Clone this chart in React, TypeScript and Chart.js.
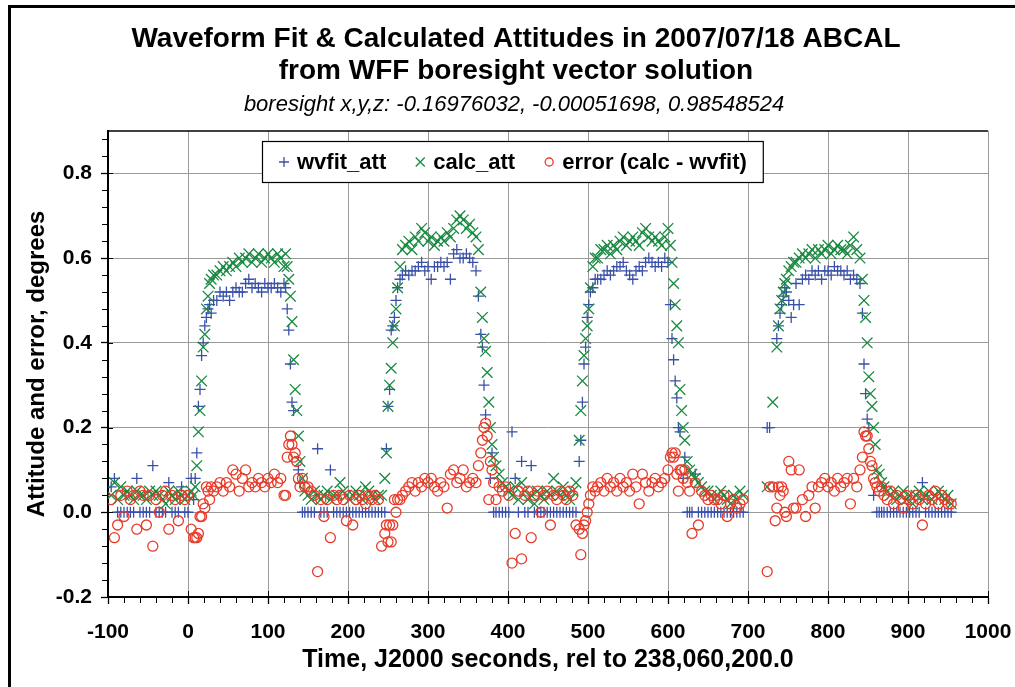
import React, { useEffect, useRef } from "react";
import { Chart, registerables } from "chart.js";

Chart.register(...registerables);

const FONT = "'Liberation Sans', Arial, Helvetica, sans-serif";

const TITLE_1 = "Waveform Fit & Calculated Attitudes in 2007/07/18 ABCAL";
const TITLE_2 = "from WFF boresight vector solution";
const SUBTITLE = "boresight x,y,z: -0.16976032, -0.00051698, 0.98548524";
const X_TITLE = "Time, J2000 seconds, rel to 238,060,200.0";
const Y_TITLE = "Attitude and error, degrees";
const SERIES_NAMES = ["wvfit_att", "calc_att", "error (calc - wvfit)"];

const X_MIN = -100;
const X_MAX = 1000;
const X_STEP = 100;
const X_MINOR = 20;
const Y_MIN = -0.2;
const Y_MAX = 0.9;
const Y_STEP = 0.2;
const Y_MINOR = 0.04;

// sample times (s)
const TIME = [
  -96, -92, -88, -84, -80, -76, -72, -68, -64, -60, -56, -52, -48, -44, -40, -36, -32, -28, -24, -20, -16, -12, -8, -4, 0, 4,
  7, 9, 11, 13, 15, 17, 19, 21, 23, 25, 27, 29, 32,
  36, 40, 44, 48, 52, 56, 60, 64, 68, 72, 76, 80, 84, 88, 92, 96, 100, 104, 108, 112, 116, 120,
  122, 124, 126, 128, 130, 132, 134, 136, 138, 140, 143, 146,
  150, 154, 158, 162, 166, 170, 174, 178, 182, 186, 190, 194, 198, 202, 206, 210, 214, 218, 222, 226, 230, 234, 238, 242, 246,
  248, 250, 252, 254, 256, 258, 260, 262, 265, 268,
  272, 276, 280, 284, 288, 292, 296, 300, 304, 308, 312, 316, 320, 324, 328, 332, 336, 340, 344, 348, 352, 356, 360,
  363, 366, 368, 370, 372, 374, 376, 378, 380, 382, 385,
  389, 393, 397, 401, 405, 409, 413, 417, 421, 425, 429, 433, 437, 441, 445, 449, 453, 457, 461, 465, 469, 473, 477, 481, 485, 489,
  491, 493, 495, 497, 499, 501, 503, 506, 509,
  512, 516, 520, 524, 528, 532, 536, 540, 544, 548, 552, 556, 560, 564, 568, 572, 576, 580, 584, 588, 592, 596, 600,
  603, 605, 607, 609, 611, 613, 615, 617, 619, 621, 624, 627, 630,
  634, 638, 642, 646, 650, 654, 658, 662, 666, 670, 674, 678, 682, 686, 690, 694,
  724, 727, 731, 734, 736, 738, 740, 742, 744, 746, 748, 751, 754, 757,
  760, 764, 768, 772, 776, 780, 784, 788, 792, 796, 800, 804, 808, 812, 816, 820, 824, 828, 832, 836, 840,
  843, 845, 847, 849, 851, 853, 855, 857, 859, 861, 864, 867,
  870, 874, 878, 882, 886, 890, 894, 898, 902, 906, 910, 914, 918, 922, 926, 930, 934, 938, 942, 946, 950, 954,
];

// wvfit_att (degrees)
const WVFIT = [
  0.06, 0.08, 0, 0, 0, 0, 0, 0, 0.08, 0, 0, 0, 0, 0.11, 0, 0, 0, 0, 0.07, 0, 0, 0, 0.06, 0, 0, 0.08,
  0.03, 0.08, 0.14, 0.25, 0.29, 0.37, 0.40, 0.44, 0.46, 0.48, 0.49, 0.47, 0.50,
  0.50, 0.52, 0.51, 0.52, 0.50, 0.52, 0.53, 0.52, 0.52, 0.54, 0.55, 0.53, 0.54, 0.53, 0.52, 0.54, 0.53, 0.53, 0.54, 0.53, 0.52, 0.54,
  0.53, 0.48, 0.43, 0.35, 0.26, 0.24, null, null, 0.10, 0.07, 0, 0,
  0, 0, 0, 0.15, 0, 0, 0, 0.10, 0, 0, 0, 0, 0, 0, 0, 0, 0, 0, 0, 0, 0, 0, 0, 0, 0,
  0.15, 0.25, 0.29, 0.43, 0.44, 0.46, 0.50, 0.53, 0.55, 0.56,
  0.57, 0.56, 0.57, 0.57, 0.58, 0.59, 0.57, 0.58, 0.55, 0.58, 0.58, 0.59, 0.58, 0.59, 0.55, 0.61, 0.62, 0.60, 0.60, 0.61, 0.60, 0.59, 0.57,
  0.51, 0.42, 0.39, 0.30, 0.23, null, null, 0.08, 0.14, 0, 0,
  0, 0, 0, 0, 0.19, 0.08, 0, 0.12, 0, 0, 0.11, 0, 0, 0, 0, 0, 0, 0, 0, 0, 0, 0, 0, 0, 0, 0.12,
  0.17, 0.26, 0.35, 0.39, 0.46, 0.49, 0.52, 0.53, 0.55,
  0.55, 0.55, 0.56, 0.57, 0.56, 0.57, 0.58, 0.58, 0.59, 0.57, 0.56, 0.55, 0.57, 0.58, 0.57, 0.59, 0.60, 0.59, 0.58, 0.59, 0.58, 0.60, 0.59,
  0.49, 0.41, 0.36, 0.31, 0.27, 0.20, 0.19, null, 0.08, 0.13, 0, 0, 0,
  0.09, 0, 0, 0, 0, 0, 0, 0, 0, 0, 0, 0, 0, 0, 0, 0,
  0.20, 0.20, null, null, 0.41, 0.44, 0.47, 0.49, 0.51, 0.53, 0.52, 0.50, 0.46, 0.49,
  0.54, 0.49, 0.55, 0.56, 0.55, 0.57, 0.56, 0.57, 0.55, 0.57, 0.57, 0.56, 0.58, 0.57, 0.57, 0.56, 0.57, 0.55, 0.56, 0.55, 0.54,
  0.47, 0.35, 0.28, 0.22, 0.20, null, null, 0.04, null, 0, 0, 0,
  0, 0, 0, 0, 0, 0, 0, 0, 0, 0, 0, 0, 0.07, 0, 0, 0, 0, 0, 0, 0, 0, 0,
];

// calc_att (degrees)
const CALC = [
  0.04, 0.07, 0.03, 0.06, 0.04, 0.05, 0.04, 0.03, 0.05, 0.04, 0.04, 0.03, 0.05, 0.04, 0.05, 0.04, 0.03, 0.02, 0.05, 0.04, 0.03, 0.05, 0.04, 0.03, 0.04, 0.05,
  0.04, 0.06, 0.11, 0.19, 0.24, 0.31, 0.39, 0.42, 0.48, 0.51, 0.54, 0.55, 0.56,
  0.56, 0.57, 0.58, 0.57, 0.58, 0.59, 0.58, 0.60, 0.59, 0.60, 0.61, 0.59, 0.60, 0.61, 0.59, 0.60, 0.61, 0.60, 0.59, 0.61, 0.60, 0.58,
  0.61, 0.58, 0.55, 0.51, 0.45, 0.36, 0.29, 0.24, 0.18, 0.12, 0.08, 0.05,
  0.04, 0.03, 0.05, 0.04, 0.03, 0.04, 0.05, 0.03, 0.04, 0.04, 0.07, 0.05, 0.04, 0.03, 0.04, 0.05, 0.04, 0.03, 0.06, 0.05, 0.04, 0.03, 0.04, 0.04, 0.08,
  0.14, 0.25, 0.30, 0.34, 0.40, 0.44, 0.48, 0.53, 0.58, 0.62,
  0.63, 0.64, 0.62, 0.65, 0.64, 0.67, 0.66, 0.64, 0.65, 0.63, 0.64, 0.65, 0.64, 0.66, 0.65, 0.67, 0.69, 0.70, 0.69, 0.67, 0.68, 0.66, 0.65,
  0.62, 0.52, 0.46, 0.41, 0.38, 0.33, 0.26, 0.20, 0.16, 0.13, 0.11,
  0.09, 0.07, 0.06, 0.05, 0.04, 0.06, 0.03, 0.07, 0.05, 0.03, 0.04, 0.02, 0.05, 0.04, 0.03, 0.05, 0.04, 0.08, 0.05, 0.04, 0.06, 0.04, 0.03, 0.05, 0.07, 0.17,
  0.24, 0.31, 0.37, 0.41, 0.44, 0.48, 0.53, 0.58, 0.60,
  0.60, 0.62, 0.62, 0.63, 0.61, 0.63, 0.62, 0.64, 0.65, 0.63, 0.64, 0.65, 0.64, 0.63, 0.66, 0.67, 0.65, 0.64, 0.65, 0.64, 0.63, 0.65, 0.67,
  0.63, 0.59, 0.54, 0.49, 0.44, 0.40, 0.29, 0.24, 0.20, 0.17, 0.12, 0.10, 0.09,
  0.08, 0.07, 0.06, 0.05, 0.05, 0.04, 0.03, 0.04, 0.05, 0.04, 0.03, 0.02, 0.04, 0.03, 0.05, 0.04,
  0.06, null, 0.26, null, 0.39, 0.44, 0.48, 0.50, 0.52, 0.54, 0.55, 0.57, 0.58, 0.59,
  0.59, 0.60, 0.61, 0.60, 0.61, 0.62, 0.60, 0.62, 0.61, 0.62, 0.63, 0.61, 0.62, 0.63, 0.62, 0.62, 0.61, 0.63, 0.65, 0.62, 0.60,
  0.55, 0.50, 0.46, 0.40, 0.32, 0.28, 0.25, 0.20, 0.16, 0.10, 0.09, 0.07,
  0.06, 0.05, 0.04, 0.05, 0.03, 0.04, 0.05, 0.03, 0.04, 0.02, 0.04, 0.05, 0.03, 0.04, 0.05, 0.03, 0.04, 0.05, 0.04, 0.03, 0.04, 0.02,
];

// error = calc - wvfit (degrees)
const ERROR_VALUES = [
  0.03, -0.06, -0.03, 0.04, -0.01, 0.05, 0.03, 0.04, -0.04, 0.05, 0.04, -0.03, 0.04, -0.08, 0.03, 0, 0.04, 0.05, -0.04, 0.04, 0.03, -0.02, 0.04, 0.03, 0.04, -0.04,
  -0.06, -0.06, -0.06, -0.05, -0.01, -0.01, 0.02, 0.01, 0.06, 0.05, 0.03, 0.06, 0.05,
  0.06, 0.07, 0.05, 0.07, 0.06, 0.10, 0.09, 0.05, 0.08, 0.10, 0.06, 0.07, 0.06, 0.08, 0.07, 0.06, 0.08, 0.07, 0.09, 0.07, 0.08, 0.04,
  0.04, 0.13, 0.16, 0.18, 0.16, 0.13, 0.14, 0.12, 0.08, 0.06, 0.08, 0.06,
  0.06, 0.05, 0.04, -0.14, 0.03, -0.01, 0.03, -0.06, 0.04, 0.03, 0.04, 0.03, -0.02, 0.04, -0.03, 0.03, 0.04, 0.03, 0.02, 0.04, 0.03, 0.04, 0.03, -0.08, -0.05,
  -0.03, -0.07, -0.03, -0.07, -0.03, 0.03, 0, 0.03, 0.03, 0.04,
  0.05, 0.06, 0.07, 0.05, 0.07, 0.06, 0.08, 0.07, 0.08, 0.06, 0.05, 0.07, 0.06, 0.01, 0.09, 0.10, 0.07, 0.08, 0.10, 0.06, 0.07, 0.08, 0.07,
  0.11, 0.14, 0.17, 0.20, 0.21, 0.18, 0.03, 0.12, 0.10, 0.07, 0.03,
  0.06, 0.05, 0.06, 0.04, -0.12, -0.05, 0.05, -0.11, 0.04, 0.05, -0.06, 0.04, 0.05, 0, 0.04, 0.05, -0.03, 0.04, 0.03, 0.05, 0.04, 0.03, 0.05, 0.04, -0.03, -0.04,
  -0.10, -0.05, -0.03, -0.02, 0, 0.02, 0.04, 0.06, 0.05,
  0.06, 0.07, 0.05, 0.08, 0.06, 0.07, 0.05, 0.08, 0.06, 0.07, 0.05, 0.09, 0.06, 0.02, 0.09, 0.07, 0.05, 0.07, 0.08, 0.06, 0.07, 0.08, 0.10,
  0.13, 0.14, 0.13, 0.14, 0.09, 0.05, 0.10, 0.10, 0.08, 0.10, 0.07, 0.05, -0.05,
  0.07, -0.03, 0.05, 0.04, 0.03, 0.04, 0.03, 0.03, 0.02, 0.04, -0.01, 0.02, 0.03, 0.01, 0.02, 0.03,
  -0.14, 0.06, 0.06, -0.02, 0.01, 0.06, 0.04, 0.06, 0.05, 0, -0.01, 0.12, 0.10, 0.01,
  0.01, 0.10, 0.03, -0.01, 0.04, 0.06, 0.01, 0.06, 0.07, 0.08, 0.06, 0.07, 0.05, 0.08, 0.06, 0.07, 0.08, 0.02, 0.08, 0.06, 0.10,
  0.13, 0.19, 0.18, 0.18, 0.15, 0.12, 0.11, 0.08, 0.07, 0.06, 0.05, 0.06,
  0.04, 0.03, 0.05, 0.02, 0.04, 0.03, 0.01, 0.04, 0.03, 0.02, 0.04, 0.03, -0.03, 0.02, 0.04, 0.03, 0.05, 0.02, 0.04, 0.03, 0.02, 0.02,
];

const BLUE = "#3a50a8";
const GREEN = "#188a40";
const RED = "#e83c2a";
const GRID = "#9a9a9a";

function toPoints(values: (number | null)[]) {
  const out: { x: number; y: number }[] = [];
  TIME.forEach((t, i) => {
    const v = values[i];
    if (v !== null && v !== undefined) out.push({ x: t, y: v });
  });
  return out;
}

const framePlugin = {
  id: "frameAndTitles",
  beforeDraw(chart: any) {
    const { ctx, width, height } = chart;
    ctx.save();
    ctx.fillStyle = "#fff";
    ctx.fillRect(0, 0, width, height);
    ctx.fillStyle = "#000";
    ctx.fillRect(8, 5, width - 8, 3);
    ctx.fillRect(8, 5, 3, height - 5);
    ctx.textAlign = "center";
    ctx.textBaseline = "middle";
    ctx.font = `bold 28px ${FONT}`;
    ctx.fillText(TITLE_1, 516, 39);
    ctx.fillText(TITLE_2, 516, 71);
    ctx.font = `italic 22px ${FONT}`;
    ctx.fillText(SUBTITLE, 514, 105);
    ctx.restore();
  },
  afterDraw(chart: any) {
    const { ctx, chartArea, scales } = chart;
    const xs = scales.x;
    const ys = scales.y;
    ctx.save();
    ctx.strokeStyle = "#000";
    ctx.lineWidth = 1.5;
    ctx.beginPath();
    ctx.moveTo(chartArea.left, chartArea.top);
    ctx.lineTo(chartArea.right, chartArea.top);
    ctx.stroke();
    ctx.lineWidth = 1;
    const ny = Math.round((Y_MAX - Y_MIN) / Y_MINOR);
    const perY = Math.round(Y_STEP / Y_MINOR);
    for (let k = 0; k <= ny; k++) {
      const v = Y_MIN + k * Y_MINOR;
      if (v > Y_MAX + 1e-9) break;
      const py = Math.round(ys.getPixelForValue(v)) + 0.5;
      ctx.beginPath();
      if (k % perY === 0) {
        ctx.moveTo(chartArea.left, py);
        ctx.lineTo(chartArea.left + 5, py);
      } else {
        ctx.moveTo(chartArea.left - 6, py);
        ctx.lineTo(chartArea.left, py);
      }
      ctx.stroke();
    }
    const nx = Math.round((X_MAX - X_MIN) / X_MINOR);
    const perX = Math.round(X_STEP / X_MINOR);
    for (let k = 0; k <= nx; k++) {
      const v = X_MIN + k * X_MINOR;
      const px = Math.round(xs.getPixelForValue(v)) + 0.5;
      ctx.beginPath();
      if (k % perX === 0) {
        ctx.moveTo(px, chartArea.bottom - 6);
        ctx.lineTo(px, chartArea.bottom);
      } else {
        ctx.moveTo(px, chartArea.bottom);
        ctx.lineTo(px, chartArea.bottom + 6);
      }
      ctx.stroke();
    }
    ctx.restore();
  },
};

function drawMarker(ctx: CanvasRenderingContext2D, kind: number, x: number, y: number) {
  ctx.save();
  ctx.lineWidth = 1.3;
  ctx.beginPath();
  if (kind === 0) {
    ctx.strokeStyle = BLUE;
    ctx.moveTo(x - 5, y);
    ctx.lineTo(x + 5, y);
    ctx.moveTo(x, y - 5);
    ctx.lineTo(x, y + 5);
  } else if (kind === 1) {
    ctx.strokeStyle = GREEN;
    ctx.moveTo(x - 4.5, y - 4.5);
    ctx.lineTo(x + 4.5, y + 4.5);
    ctx.moveTo(x - 4.5, y + 4.5);
    ctx.lineTo(x + 4.5, y - 4.5);
  } else {
    ctx.strokeStyle = RED;
    ctx.arc(x, y, 4, 0, Math.PI * 2);
  }
  ctx.stroke();
  ctx.restore();
}

const legendPlugin = {
  id: "boxLegend",
  afterDraw(chart: any) {
    const { ctx, chartArea } = chart;
    const left = chartArea.left + 154;
    const top = chartArea.top + 10;
    const h = 41;
    ctx.save();
    ctx.font = `bold 22px ${FONT}`;
    const widths = SERIES_NAMES.map((n) => ctx.measureText(n).width);
    const padL = 22;
    const markText = 13;
    const gap = 34;
    const padR = 16;
    const w = padL + widths.reduce((a, b) => a + b, 0) + markText * widths.length + gap * (widths.length - 1) + padR;
    ctx.fillStyle = "#fff";
    ctx.fillRect(left, top, w, h);
    ctx.strokeStyle = "#000";
    ctx.lineWidth = 1.2;
    ctx.strokeRect(left + 0.5, top + 0.5, w, h);
    let x = left + padL;
    const cy = top + h / 2 + 0.5;
    SERIES_NAMES.forEach((name, i) => {
      drawMarker(ctx, i, x, cy);
      ctx.fillStyle = "#000";
      ctx.textAlign = "left";
      ctx.textBaseline = "middle";
      ctx.fillText(name, x + markText, cy + 1);
      x += markText + widths[i] + gap;
    });
    ctx.restore();
  },
};

export default function App() {
  const canvasRef = useRef<HTMLCanvasElement>(null);

  useEffect(() => {
    const canvas = canvasRef.current;
    if (!canvas) return;
    const tickFont = { family: FONT, size: 21, weight: "bold" as const };
    const yTitleFont = { family: FONT, size: 24, weight: "bold" as const };
    const xTitleFont = { family: FONT, size: 25, weight: "bold" as const };
    const chart = new Chart(canvas, {
      type: "scatter",
      data: {
        datasets: [
          {
            label: SERIES_NAMES[0],
            data: toPoints(WVFIT),
            pointStyle: "cross",
            pointRadius: 5.5,
            pointHoverRadius: 5.5,
            borderColor: BLUE,
            pointBorderColor: BLUE,
            backgroundColor: BLUE,
            pointBorderWidth: 1.3,
            borderWidth: 1.3,
            showLine: false,
            order: 3,
          },
          {
            label: SERIES_NAMES[1],
            data: toPoints(CALC),
            pointStyle: "crossRot",
            pointRadius: 7.5,
            pointHoverRadius: 7.5,
            borderColor: GREEN,
            pointBorderColor: GREEN,
            backgroundColor: GREEN,
            pointBorderWidth: 1.3,
            borderWidth: 1.3,
            showLine: false,
            order: 2,
          },
          {
            label: SERIES_NAMES[2],
            data: toPoints(ERROR_VALUES),
            pointStyle: "circle",
            pointRadius: 5,
            pointHoverRadius: 5,
            borderColor: RED,
            pointBorderColor: RED,
            backgroundColor: "rgba(0,0,0,0)",
            pointBackgroundColor: "rgba(0,0,0,0)",
            pointBorderWidth: 1.3,
            borderWidth: 1.3,
            showLine: false,
            order: 1,
          },
        ],
      },
      options: {
        responsive: false,
        animation: false,
        events: [],
        layout: { padding: { top: 131, right: 27, left: 0, bottom: 0 } },
        plugins: {
          legend: { display: false },
          title: { display: false },
          tooltip: { enabled: false },
        },
        scales: {
          x: {
            type: "linear",
            min: X_MIN,
            max: X_MAX,
            ticks: {
              stepSize: X_STEP,
              color: "#000",
              font: tickFont,
              padding: 16,
              maxRotation: 0,
              autoSkip: false,
              callback: (v: any) => String(v),
            },
            grid: { color: GRID, lineWidth: 1, tickLength: 7, tickColor: "#000", tickWidth: 1.3 },
            border: { color: "#000", width: 2 },
            title: {
              display: true,
              text: X_TITLE,
              color: "#000",
              font: xTitleFont,
              padding: { top: 0, bottom: 12 },
            },
            afterFit: (s: any) => {
              s.height = 90;
              s.paddingRight = 0;
              s.paddingLeft = 0;
            },
          },
          y: {
            type: "linear",
            min: Y_MIN,
            max: Y_MAX,
            ticks: {
              stepSize: Y_STEP,
              includeBounds: false,
              color: "#000",
              font: tickFont,
              padding: 9,
              callback: (v: any) => {
                const n = Number(v);
                return Math.abs(n) < 1e-9 ? "0.0" : n.toFixed(1);
              },
            },
            grid: { color: GRID, lineWidth: 1, tickLength: 7, tickColor: "#000", tickWidth: 1.3 },
            border: { color: "#000", width: 2 },
            title: {
              display: true,
              text: Y_TITLE,
              color: "#000",
              font: yTitleFont,
              padding: { top: 23, bottom: 0 },
            },
            afterFit: (s: any) => {
              s.width = 108;
              s.paddingTop = 0;
              s.paddingBottom = 0;
            },
          },
        },
      },
      plugins: [framePlugin, legendPlugin],
    });
    return () => chart.destroy();
  }, []);

  return (
    <div style={{ position: "absolute", left: 0, top: 0, width: 1015, height: 687, background: "#fff" }}>
      <canvas ref={canvasRef} width={1015} height={687} style={{ display: "block", width: 1015, height: 687 }} />
    </div>
  );
}
